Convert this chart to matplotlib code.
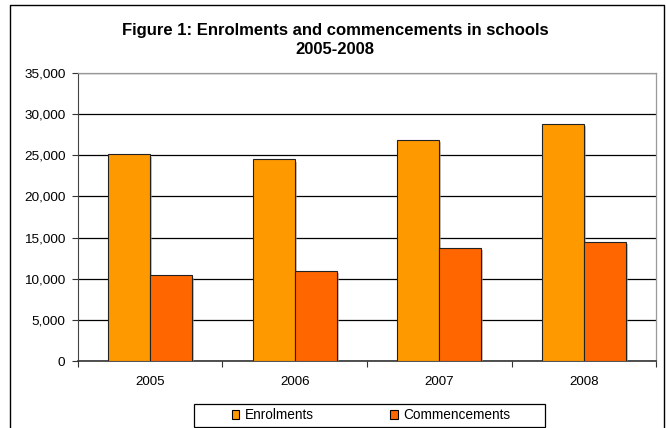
import matplotlib
matplotlib.use('Agg')
import matplotlib.pyplot as plt
import matplotlib.patheffects as pe
from matplotlib.patches import Patch, Rectangle
from matplotlib.lines import Line2D
from matplotlib.ticker import StrMethodFormatter, FixedLocator
import numpy as np

plt.rcParams['font.family'] = ['Liberation Sans', 'DejaVu Sans']

# data
years = ['2005', '2006', '2007', '2008']
enrolments = [25100, 24500, 26900, 28800]
commencements = [10400, 11000, 13700, 14500]

enrol_color = '#FF9900'
commence_color = '#FF6600'

fig = plt.figure(figsize=(6.66, 4.28), dpi=100)
ax = fig.add_axes([0.1171, 0.1565, 0.8679, 0.6729])

x = np.arange(len(years))
w = 0.29
shadow = [pe.SimplePatchShadow(offset=(1.5, -1.5), shadow_rgbFace='#999999', alpha=0.6), pe.Normal()]

b1 = ax.bar(x - w / 2, enrolments, width=w, color=enrol_color, edgecolor='#222222',
            linewidth=0.8, zorder=3)
b2 = ax.bar(x + w / 2, commencements, width=w, color=commence_color, edgecolor='#222222',
            linewidth=0.8, zorder=3)
for bar in list(b1) + list(b2):
    bar.set_path_effects(shadow)

ax.set_xlim(-0.5, len(years) - 0.5)
ax.set_ylim(0, 35000)
ax.set_yticks(range(0, 35001, 5000))
ax.yaxis.set_major_formatter(StrMethodFormatter('{x:,.0f}'))
ax.yaxis.grid(True, color='black', linewidth=0.9, zorder=0)
ax.set_axisbelow(True)

# ticks at category boundaries, labels at centres
ax.xaxis.set_major_locator(FixedLocator(np.arange(-0.5, len(years), 1.0)))
ax.xaxis.set_minor_locator(FixedLocator(x))
ax.set_xticklabels([])
ax.set_xticklabels(years, minor=True)
ax.tick_params(axis='x', which='major', direction='out', length=4, color='#333333')
ax.tick_params(axis='x', which='minor', length=0, pad=11, labelsize=9.6)
ax.tick_params(axis='y', direction='out', length=4, color='#333333', labelsize=9.7, pad=5)

for side in ['top', 'right']:
    ax.spines[side].set_color('#999999')
    ax.spines[side].set_linewidth(0.9)
ax.spines['left'].set_color('#444444')
ax.spines['bottom'].set_color('#333333')
ax.spines['bottom'].set_linewidth(1.2)

W, H = 666, 428
fig.text(335 / W, 1 - 30 / H, 'Figure 1: Enrolments and commencements in schools',
         ha='center', va='center', fontsize=12, fontweight='bold')
fig.text(335 / W, 1 - 50 / H, '2005-2008',
         ha='center', va='center', fontsize=12, fontweight='bold')

# outer chart border (bottom edge is cut off in the reference)
fig.add_artist(Line2D([10 / W, 10 / W, 664 / W, 664 / W],
                      [0, 1 - 5 / H, 1 - 5 / H, 0], color='black', linewidth=1.0,
                      transform=fig.transFigure))

# legend frame and entries
fig.add_artist(Rectangle((194 / W, 1 - 427 / H), 351 / W, 23 / H, fill=False,
                         edgecolor='black', linewidth=0.9, transform=fig.transFigure))
handles = [Patch(facecolor=enrol_color, edgecolor='black', linewidth=0.8),
           Patch(facecolor=commence_color, edgecolor='black', linewidth=0.8)]
fig.legend(handles, ['Enrolments', 'Commencements'], loc='center',
           bbox_to_anchor=(371 / W, 1 - 415 / H), ncol=2, frameon=False,
           fontsize=9.8, handlelength=0.55, handleheight=0.6, handletextpad=0.4,
           columnspacing=5.65, borderpad=0)

fig.savefig('out.png', dpi=100)
